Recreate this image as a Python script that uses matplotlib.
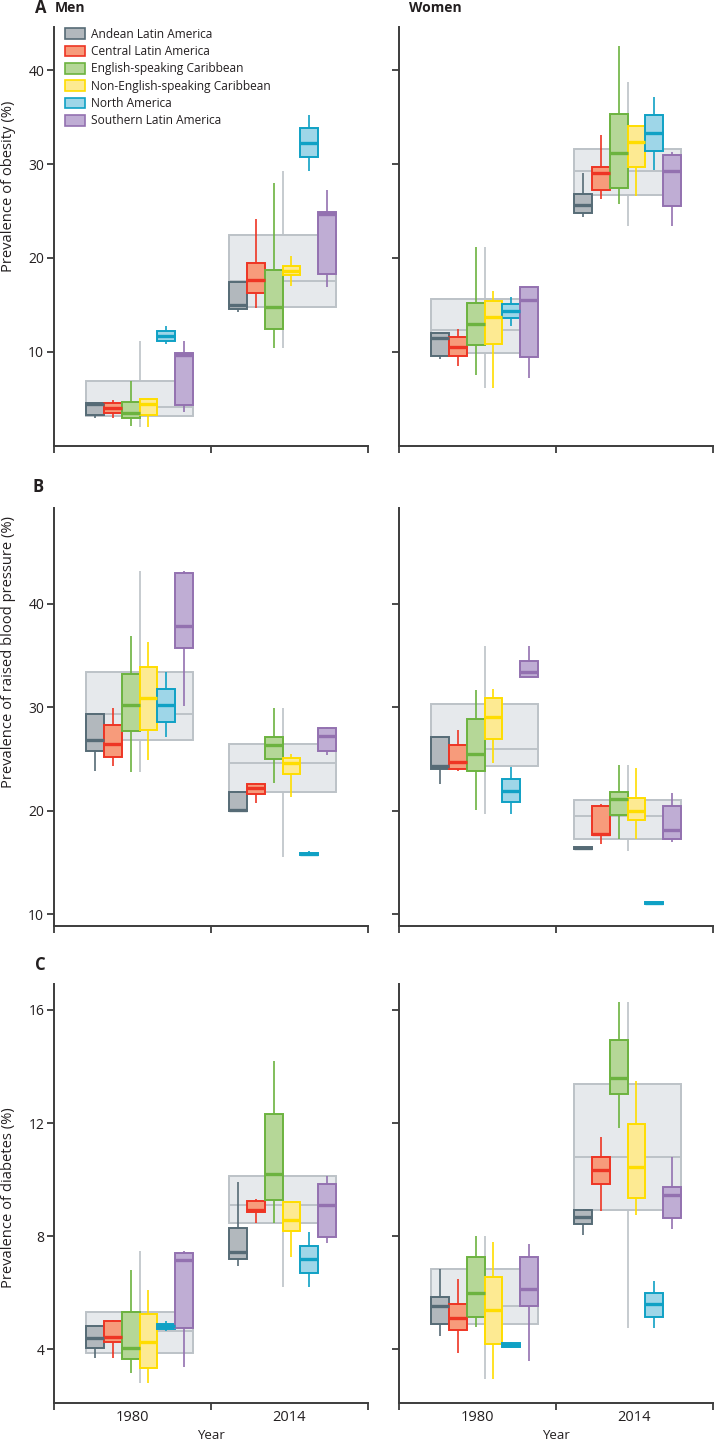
import matplotlib
matplotlib.use('Agg')
import matplotlib.pyplot as plt
from matplotlib.patches import Patch

plt.rcParams['font.family'] = ['Open Sans', 'DejaVu Sans']

regions = ['Andean Latin America', 'Central Latin America', 'English-speaking Caribbean',
           'Non-English-speaking Caribbean', 'North America', 'Southern Latin America']
year_labels = ['1980', '2014']

# Each row: whisker low, Q1, median, Q3, whisker high
# Rows: the six regions in order, then all countries (overall)
obesity_men_1980 = [[3.0, 3.3, 4.4, 4.6, 4.6], [3.0, 3.5, 4.0, 4.5, 4.9], [2.1, 3.0, 3.45, 4.7, 6.9],
                    [2.0, 3.3, 4.4, 5.0, 5.05], [10.8, 11.2, 11.7, 12.2, 12.7], [3.55, 4.3, 9.7, 9.9, 11.1],
                    [2.0, 3.15, 4.1, 6.9, 11.1]]
obesity_men_2014 = [[14.2, 14.6, 15.0, 17.4, 17.4], [14.7, 16.3, 17.6, 19.5, 24.1], [10.4, 12.4, 14.8, 18.7, 28.0],
                    [17.0, 18.2, 18.6, 19.1, 20.2], [29.3, 30.7, 32.2, 33.8, 35.2], [16.9, 18.3, 24.7, 24.9, 27.2],
                    [10.4, 14.8, 17.5, 22.4, 29.3]]
obesity_women_1980 = [[9.2, 9.55, 11.5, 12.0, 12.0], [8.5, 9.6, 10.5, 11.6, 12.4], [7.5, 10.7, 12.95, 15.25, 21.2],
                      [6.1, 10.8, 13.7, 15.4, 16.5], [12.8, 13.55, 14.4, 15.1, 15.85], [7.2, 9.5, 15.5, 16.9, 16.9],
                      [6.1, 9.9, 12.3, 15.6, 21.2]]
obesity_women_2014 = [[24.4, 24.8, 25.6, 26.8, 29.1], [26.3, 27.2, 29.0, 29.7, 33.1], [25.7, 27.4, 31.2, 35.3, 42.6],
                      [26.6, 29.7, 32.4, 34.1, 34.1], [29.4, 31.4, 33.3, 35.2, 37.1], [23.4, 25.5, 29.3, 31.0, 31.3],
                      [23.4, 26.7, 29.3, 31.6, 38.7]]

bp_men_1980 = [[23.8, 25.8, 26.8, 29.3, 29.3], [24.3, 25.2, 26.4, 28.3, 29.9], [23.7, 27.7, 30.2, 33.2, 36.9],
               [24.9, 27.8, 30.9, 33.9, 36.3], [27.1, 28.6, 30.2, 31.8, 33.4], [30.1, 35.7, 37.9, 43.0, 43.2],
               [23.7, 26.8, 29.3, 33.4, 43.2]]
bp_men_2014 = [[20.0, 20.0, 20.1, 21.8, 21.9], [20.7, 21.6, 22.2, 22.55, 22.7], [22.7, 25.0, 26.3, 27.1, 29.9],
               [21.3, 23.5, 24.6, 25.1, 25.45], [15.75, 15.75, 15.85, 15.95, 16.05], [25.4, 25.8, 27.2, 28.0, 28.1],
               [15.5, 21.8, 24.6, 26.4, 29.9]]
bp_women_1980 = [[22.55, 24.0, 24.3, 27.1, 27.1], [23.8, 24.0, 24.7, 26.3, 27.8], [20.1, 23.8, 25.5, 28.9, 31.7],
                 [24.6, 26.9, 29.1, 30.9, 31.8], [19.65, 20.8, 21.9, 23.1, 24.2], [32.9, 32.9, 33.45, 34.5, 35.9],
                 [19.65, 24.3, 26.0, 30.3, 35.9]]
bp_women_2014 = [[16.25, 16.25, 16.35, 16.45, 16.45], [16.8, 17.6, 17.75, 20.4, 20.6], [17.3, 19.55, 21.1, 21.8, 24.4],
                 [17.3, 19.05, 20.0, 21.25, 24.1], [10.98, 10.98, 11.05, 11.12, 11.12], [17.0, 17.3, 18.1, 20.45, 21.7],
                 [16.1, 17.3, 19.5, 21.0, 24.4]]

diabetes_men_1980 = [[3.67, 4.02, 4.38, 4.82, 4.82], [3.69, 4.24, 4.41, 4.99, 5.03], [3.16, 3.64, 4.02, 5.32, 6.8],
                     [2.79, 3.32, 4.24, 5.24, 6.09], [4.64, 4.72, 4.81, 4.9, 4.99], [3.35, 4.75, 7.15, 7.41, 7.48],
                     [2.79, 3.85, 4.64, 5.32, 7.48]]
diabetes_men_2014 = [[6.94, 7.19, 7.42, 8.29, 9.9], [8.45, 8.84, 8.92, 9.25, 9.3], [8.45, 9.27, 10.18, 12.31, 14.2],
                     [7.27, 8.19, 8.57, 9.19, 9.19], [6.2, 6.68, 7.18, 7.66, 8.13], [7.76, 7.98, 9.1, 9.84, 10.12],
                     [6.2, 8.45, 9.1, 10.12, 10.12]]
diabetes_women_1980 = [[4.47, 4.87, 5.53, 5.85, 6.83], [3.87, 4.66, 5.09, 5.58, 6.47], [4.79, 5.14, 5.97, 7.27, 8.0],
                       [2.94, 4.18, 5.38, 6.56, 7.78], [4.03, 4.08, 4.14, 4.2, 4.25], [3.59, 5.53, 6.11, 7.25, 7.72],
                       [2.94, 4.87, 5.53, 6.83, 8.0]]
diabetes_women_2014 = [[8.04, 8.41, 8.68, 8.92, 8.92], [8.9, 9.84, 10.35, 10.79, 11.49], [11.83, 13.04, 13.61, 14.94, 16.29],
                       [8.74, 9.33, 10.46, 11.95, 13.5], [4.73, 5.12, 5.58, 6.0, 6.41], [8.25, 8.65, 9.44, 9.75, 10.79],
                       [4.73, 8.92, 10.81, 13.39, 16.29]]

edge_colors = ['#566b76', '#ee3524', '#6cb33f', '#ffdd00', '#0fa1c5', '#9371b0']
fill_colors = ['#b2b8bd', '#f79b7b', '#b5d797', '#fdea92', '#9ed6e8', '#bfadd4']
overall_edge = '#bcc2c7'
overall_fill = '#e6e9ec'

# layout (pixels of a 714x1441 figure)
W, H = 714.0, 1441.0
col_left = [54.0, 399.0]
ax_w = 314.0
rows = [(27.0, 445.7), (507.7, 925.7), (984.0, 1402.7)]
ylims = [(0.0, 44.6), (8.87, 49.3), (2.1, 16.92)]
yticks = [[10, 20, 30, 40], [10, 20, 30, 40], [4, 8, 12, 16]]
ylabels = ['Prevalence of obesity (%)', 'Prevalence of raised blood pressure (%)', 'Prevalence of diabetes (%)']
ylabel_y = [0.62, 0.655, 0.49]

group_left = [0.202, 1.113]
box_w = 0.1142

panels = [
    [(obesity_men_1980, obesity_men_2014), (obesity_women_1980, obesity_women_2014)],
    [(bp_men_1980, bp_men_2014), (bp_women_1980, bp_women_2014)],
    [(diabetes_men_1980, diabetes_men_2014), (diabetes_women_1980, diabetes_women_2014)],
]

fig = plt.figure(figsize=(W / 100, H / 100), dpi=100)
spine_col = '#3c3c3c'
text_col = '#231f20'


def stat(row):
    return dict(whislo=row[0], q1=row[1], med=row[2], q3=row[3], whishi=row[4], fliers=[])


def draw_box(ax, row, pos, width, ec, fc, z, lw=1.4, mlw=2.4, wlw=1.2):
    ax.bxp([stat(row)], positions=[pos], widths=[width], patch_artist=True,
           showfliers=False, showcaps=False, manage_ticks=False,
           boxprops=dict(facecolor=fc, edgecolor=ec, linewidth=lw),
           medianprops=dict(color=ec, linewidth=mlw, solid_capstyle='butt'),
           whiskerprops=dict(color=ec, linewidth=wlw, solid_capstyle='butt'),
           zorder=z)


for r, (top, bottom) in enumerate(rows):
    for c in range(2):
        ax = fig.add_axes([col_left[c] / W, 1 - bottom / H, ax_w / W, (bottom - top) / H])
        for g, data in enumerate(panels[r][c]):
            gl = group_left[g]
            draw_box(ax, data[6], gl + 3 * box_w, 6 * box_w, overall_edge, overall_fill, 1,
                     lw=1.4, mlw=1.4, wlw=1.2)
            for i in range(6):
                draw_box(ax, data[i], gl + (i + 0.5) * box_w, box_w, edge_colors[i], fill_colors[i], 3)
        ax.set_xlim(0, 2)
        ax.set_ylim(*ylims[r])
        for s in ['top', 'right']:
            ax.spines[s].set_visible(False)
        for s in ['left', 'bottom']:
            ax.spines[s].set_color(spine_col)
            ax.spines[s].set_linewidth(1.4)
        ax.set_yticks(yticks[r])
        ax.tick_params(axis='y', direction='out', length=5, width=1.3, color=spine_col,
                       labelsize=10, labelcolor=text_col, pad=2)
        ax.set_xticks([0, 1, 2])
        ax.set_xticklabels([])
        ax.tick_params(axis='x', which='major', direction='out', length=5, width=1.3, color=spine_col)
        if c == 1:
            ax.set_yticklabels([])
        else:
            ax.set_ylabel(ylabels[r], fontsize=10.6, color=text_col)
            ax.yaxis.set_label_coords(-0.12, ylabel_y[r])
        if r == 2:
            ax.set_xticks([0.5, 1.5], minor=True)
            ax.set_xticklabels(year_labels, minor=True)
            ax.tick_params(axis='x', which='minor', length=0, labelsize=10.5, labelcolor=text_col, pad=5)
            ax.set_xlabel('Year', fontsize=9.5, color=text_col, labelpad=3)
        if r == 0 and c == 0:
            handles = [Patch(facecolor=fill_colors[i], edgecolor=edge_colors[i], linewidth=1.2) for i in range(6)]
            ax.legend(handles, regions, loc='upper left', bbox_to_anchor=(0.035, 0.998), frameon=False,
                      fontsize=8.6, handlelength=1.65, handleheight=1.0, labelspacing=0.36,
                      handletextpad=0.5, borderaxespad=0, borderpad=0, labelcolor=text_col)

fig.text(35 / W, 1 - 8 / H, 'A', fontsize=12, fontweight='bold', color=text_col, va='center', ha='left')
fig.text(55 / W, 1 - 8 / H, 'Men', fontsize=10, fontweight='bold', color=text_col, va='center', ha='left')
fig.text(409 / W, 1 - 8 / H, 'Women', fontsize=10, fontweight='bold', color=text_col, va='center', ha='left')
fig.text(32 / W, 1 - 487 / H, 'B', fontsize=12, fontweight='bold', color=text_col, va='center', ha='left')
fig.text(35 / W, 1 - 965 / H, 'C', fontsize=12, fontweight='bold', color=text_col, va='center', ha='left')

fig.savefig('out.png', dpi=100)
